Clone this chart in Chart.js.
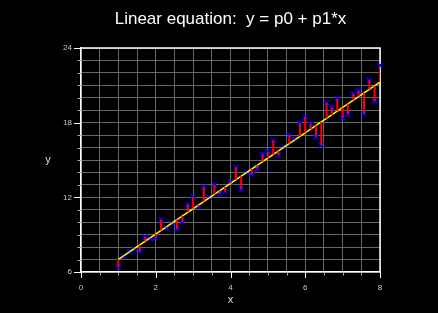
<!DOCTYPE html>
<html lang="en">
<head>
    <meta charset="UTF-8">
    <title>Linear equation</title>
    <style>
        * { margin: 0; padding: 0; }
        body { background: #000; width: 438px; height: 313px; overflow: hidden; }
        #chart { display: block; }
    </style>
</head>
<body>
    <canvas id="chart" width="438" height="313"></canvas>
    <script src="https://cdn.jsdelivr.net/npm/chart.js@4.4.1/dist/chart.umd.min.js"></script>
    <script>
        // measured points
        const xValues = [1.000, 1.143, 1.286, 1.429, 1.571, 1.714, 1.857, 2.000, 2.143, 2.286,
                         2.429, 2.571, 2.714, 2.857, 3.000, 3.143, 3.286, 3.429, 3.571, 3.714,
                         3.857, 4.000, 4.143, 4.286, 4.429, 4.571, 4.714, 4.857, 5.000, 5.143,
                         5.286, 5.429, 5.571, 5.714, 5.857, 6.000, 6.143, 6.286, 6.429, 6.571,
                         6.714, 6.857, 7.000, 7.143, 7.286, 7.429, 7.571, 7.714, 7.857, 8.000];
        const yValues = [6.40, 7.25, 7.62, 7.85, 7.67, 8.80, 8.68, 8.76, 10.18, 9.50,
                         9.95, 9.46, 10.04, 11.43, 12.05, 11.27, 12.83, 11.98, 12.99, 12.33,
                         12.47, 13.25, 14.42, 12.66, 14.02, 13.86, 14.33, 15.43, 15.67, 16.57,
                         15.40, 16.05, 17.00, 16.67, 17.96, 18.45, 17.87, 16.88, 16.18, 19.60,
                         19.18, 19.95, 18.40, 18.69, 20.30, 20.55, 18.72, 21.40, 19.72, 22.60];

        // fitted parameters: y = p0 + p1*x
        const p0 = 4.98;
        const p1 = 2.035;
        const fitRange = [1, 8];

        const xTickLabels = [0, 2, 4, 6, 8];
        const yTickLabels = [6, 12, 18, 24];

        const fitAt = x => p0 + p1 * x;

        const points = xValues.map((x, i) => ({ x: x, y: yValues[i] }));
        const fitLine = fitRange.map(x => ({ x: x, y: fitAt(x) }));
        // residual segments, separated by gaps
        const residuals = [];
        xValues.forEach((x, i) => {
            residuals.push({ x: x, y: fitAt(x) });
            residuals.push({ x: x, y: yValues[i] });
            residuals.push({ x: x, y: null });
        });

        const labelFont = { family: "'Liberation Sans', Arial, sans-serif", size: 8 };

        // black background, frame, outside tick marks, titles
        const decor = {
            id: 'decor',
            beforeDraw(chart) {
                const c = chart.ctx;
                c.save();
                c.fillStyle = '#000';
                c.fillRect(0, 0, chart.width, chart.height);
                c.restore();
            },
            beforeDatasetsDraw(chart) {
                const c = chart.ctx, a = chart.chartArea;
                const xs = chart.scales.x, ys = chart.scales.y;
                c.save();
                c.strokeStyle = '#fff';
                c.lineWidth = 1.5;
                c.beginPath();
                c.moveTo(a.left, a.top);
                c.lineTo(a.right, a.top);
                c.lineTo(a.right, a.bottom);
                c.stroke();

                c.lineWidth = 1;
                xs.ticks.forEach(t => {
                    const px = Math.round(xs.getPixelForValue(t.value)) + 0.5;
                    const major = xTickLabels.includes(t.value);
                    c.strokeStyle = major ? '#fff' : '#aaa';
                    c.beginPath();
                    c.moveTo(px, a.bottom);
                    c.lineTo(px, a.bottom + (major ? 6 : 3.5));
                    c.stroke();
                });
                ys.ticks.forEach(t => {
                    const py = Math.round(ys.getPixelForValue(t.value)) + 0.5;
                    const major = yTickLabels.includes(t.value);
                    c.strokeStyle = major ? '#fff' : '#aaa';
                    c.beginPath();
                    c.moveTo(a.left, py);
                    c.lineTo(a.left - (major ? 7 : 3.5), py);
                    c.stroke();
                });
                c.restore();
            },
            afterDraw(chart) {
                const c = chart.ctx, a = chart.chartArea;
                c.save();
                c.fillStyle = '#fff';
                c.textAlign = 'center';
                c.textBaseline = 'middle';
                c.font = "17px 'Liberation Sans', Arial, sans-serif";
                c.fillText('Linear equation:  y = p0 + p1*x', (a.left + a.right) / 2, 19);

                c.fillStyle = '#ddd';
                c.font = "11px 'Liberation Sans', Arial, sans-serif";
                c.fillText('x', (a.left + a.right) / 2, 300);
                c.fillText('y', 48, (a.top + a.bottom) / 2);
                c.restore();
            }
        };

        new Chart(document.getElementById('chart'), {
            type: 'scatter',
            data: {
                datasets: [
                    {
                        type: 'line',
                        data: residuals,
                        borderColor: '#ff0000',
                        borderWidth: 2,
                        pointRadius: 0,
                        spanGaps: false,
                    },
                    {
                        type: 'line',
                        data: fitLine,
                        borderColor: '#ffff00',
                        borderWidth: 1.5,
                        pointRadius: 0,
                    },
                    {
                        data: points,
                        clip: false,
                        pointStyle: 'crossRot',
                        pointRadius: 3.5,
                        borderColor: '#0000ff',
                        backgroundColor: '#0000ff',
                        pointBorderWidth: 1.6,
                    },
                ],
            },
            options: {
                responsive: false,
                animation: false,
                layout: { padding: { top: 48, right: 58, left: 0, bottom: 0 } },
                plugins: {
                    legend: { display: false },
                    tooltip: { enabled: false },
                },
                scales: {
                    x: {
                        type: 'linear',
                        min: 0,
                        max: 8,
                        afterFit(s) { s.height = 41; },
                        border: { color: '#fff', width: 1.5 },
                        grid: { color: '#666', drawTicks: false },
                        ticks: {
                            stepSize: 0.5,
                            padding: 11,
                            color: '#c8c8c8',
                            font: labelFont,
                            maxRotation: 0,
                            autoSkip: false,
                            callback: v => xTickLabels.includes(v) ? String(v) : '',
                        },
                    },
                    y: {
                        min: 6,
                        max: 24,
                        afterFit(s) { s.width = 81; },
                        border: { color: '#fff', width: 1.5 },
                        grid: { color: '#666', drawTicks: false },
                        ticks: {
                            stepSize: 1,
                            padding: 9,
                            color: '#c8c8c8',
                            font: labelFont,
                            autoSkip: false,
                            callback: v => yTickLabels.includes(v) ? String(v) : '',
                        },
                    },
                },
            },
            plugins: [decor],
        });
    </script>
</body>
</html>
